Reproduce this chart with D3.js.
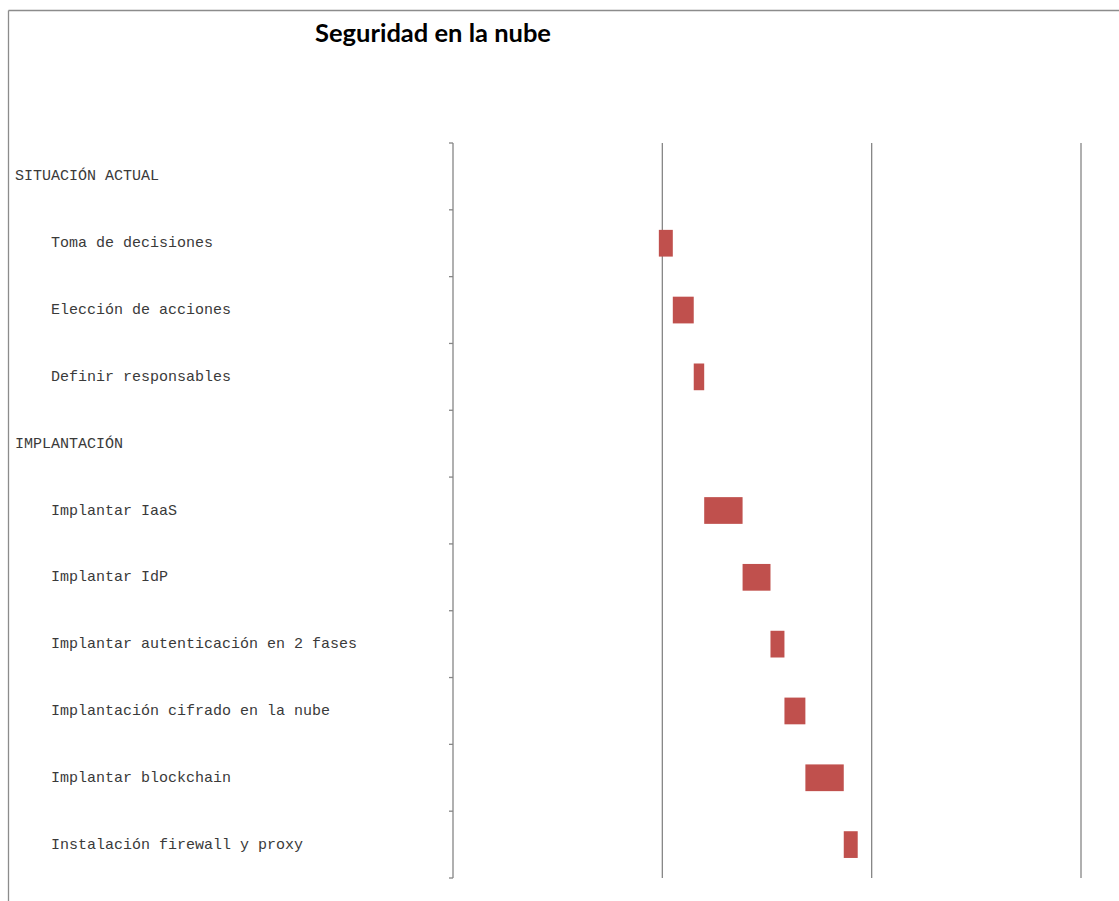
<!DOCTYPE html>
<html>
<head>
<meta charset="utf-8">
<script src="https://cdn.jsdelivr.net/npm/d3@7"></script>
<style>
  html, body { margin: 0; padding: 0; background: #fff; }
  svg { display: block; }
  .lbl { white-space: pre; }
</style>
</head>
<body>
<svg id="chart" width="1119" height="901"></svg>
<script>
// ---- data ----
const title = "Seguridad en la nube";
const tasks = [
  "SITUACIÓN ACTUAL",
  "    Toma de decisiones",
  "    Elección de acciones",
  "    Definir responsables",
  "IMPLANTACIÓN",
  "    Implantar IaaS",
  "    Implantar IdP",
  "    Implantar autenticación en 2 fases",
  "    Implantación cifrado en la nube",
  "    Implantar blockchain",
  "    Instalación firewall y proxy"
];
// start day (offset from axis origin) and duration in days; null = summary row
const startDays = [null, 59, 63, 69, null, 72, 83, 91, 95, 101, 112];
const durations = [null, 4, 6, 3, null, 11, 8, 4, 6, 11, 4];
const axisDomain = [0, 180];
const gridTicks = [60, 120, 180];

// ---- layout ----
const svg = d3.select("#chart");
const plotLeft = 453, plotRight = 1081, plotTop = 143, plotBottom = 878;

// outer chart border (top & left visible)
svg.append("line").attr("x1", 8.5).attr("x2", 1119).attr("y1", 10.5).attr("y2", 10.5)
  .attr("stroke", "#8c8c8c").attr("stroke-width", 1.3);
svg.append("line").attr("x1", 8.5).attr("x2", 8.5).attr("y1", 10.5).attr("y2", 901)
  .attr("stroke", "#8c8c8c").attr("stroke-width", 1.3);

svg.append("text")
  .attr("x", 433).attr("y", 42)
  .attr("text-anchor", "middle")
  .attr("font-family", "Lato, 'Open Sans', sans-serif")
  .attr("font-weight", "bold")
  .attr("font-size", 25.5)
  .attr("fill", "#000")
  .text(title);

const x = d3.scaleLinear().domain(axisDomain).range([plotLeft, plotRight]);
const y = d3.scaleBand().domain(d3.range(tasks.length)).range([plotTop, plotBottom]).paddingInner(0).paddingOuter(0);

// vertical gridlines
svg.append("g").selectAll("line").data(gridTicks).join("line")
  .attr("x1", d => x(d)).attr("x2", d => x(d))
  .attr("y1", plotTop).attr("y2", plotBottom)
  .attr("stroke", "#868686").attr("stroke-width", 1.3);

// vertical category axis with ticks at band boundaries
const boundaries = d3.range(tasks.length + 1).map(i => plotTop + i * y.step());
const ax = svg.append("g");
ax.append("line").attr("x1", plotLeft).attr("x2", plotLeft)
  .attr("y1", plotTop).attr("y2", plotBottom)
  .attr("stroke", "#868686").attr("stroke-width", 1.3);
ax.selectAll("line.tick").data(boundaries).join("line").attr("class", "tick")
  .attr("x1", plotLeft - 4).attr("x2", plotLeft)
  .attr("y1", d => d).attr("y2", d => d)
  .attr("stroke", "#868686").attr("stroke-width", 1.3);

// labels
svg.append("g").selectAll("text").data(tasks).join("text")
  .attr("class", "lbl")
  .attr("x", 15)
  .attr("y", (d, i) => y(i) + y.bandwidth() / 2)
  .attr("dy", "0.27em")
  .attr("font-family", "'Liberation Mono', 'Courier New', monospace")
  .attr("font-size", 15)
  .attr("fill", "#3a3a3a")
  .text(d => d);

// bars
const barH = y.bandwidth() * 0.4;
const rows = d3.range(tasks.length).filter(i => startDays[i] !== null);
svg.append("g").selectAll("rect").data(rows).join("rect")
  .attr("x", i => x(startDays[i]))
  .attr("width", i => x(startDays[i] + durations[i]) - x(startDays[i]))
  .attr("y", i => y(i) + (y.bandwidth() - barH) / 2)
  .attr("height", barH)
  .attr("fill", "#C0504D");
</script>
</body>
</html>
